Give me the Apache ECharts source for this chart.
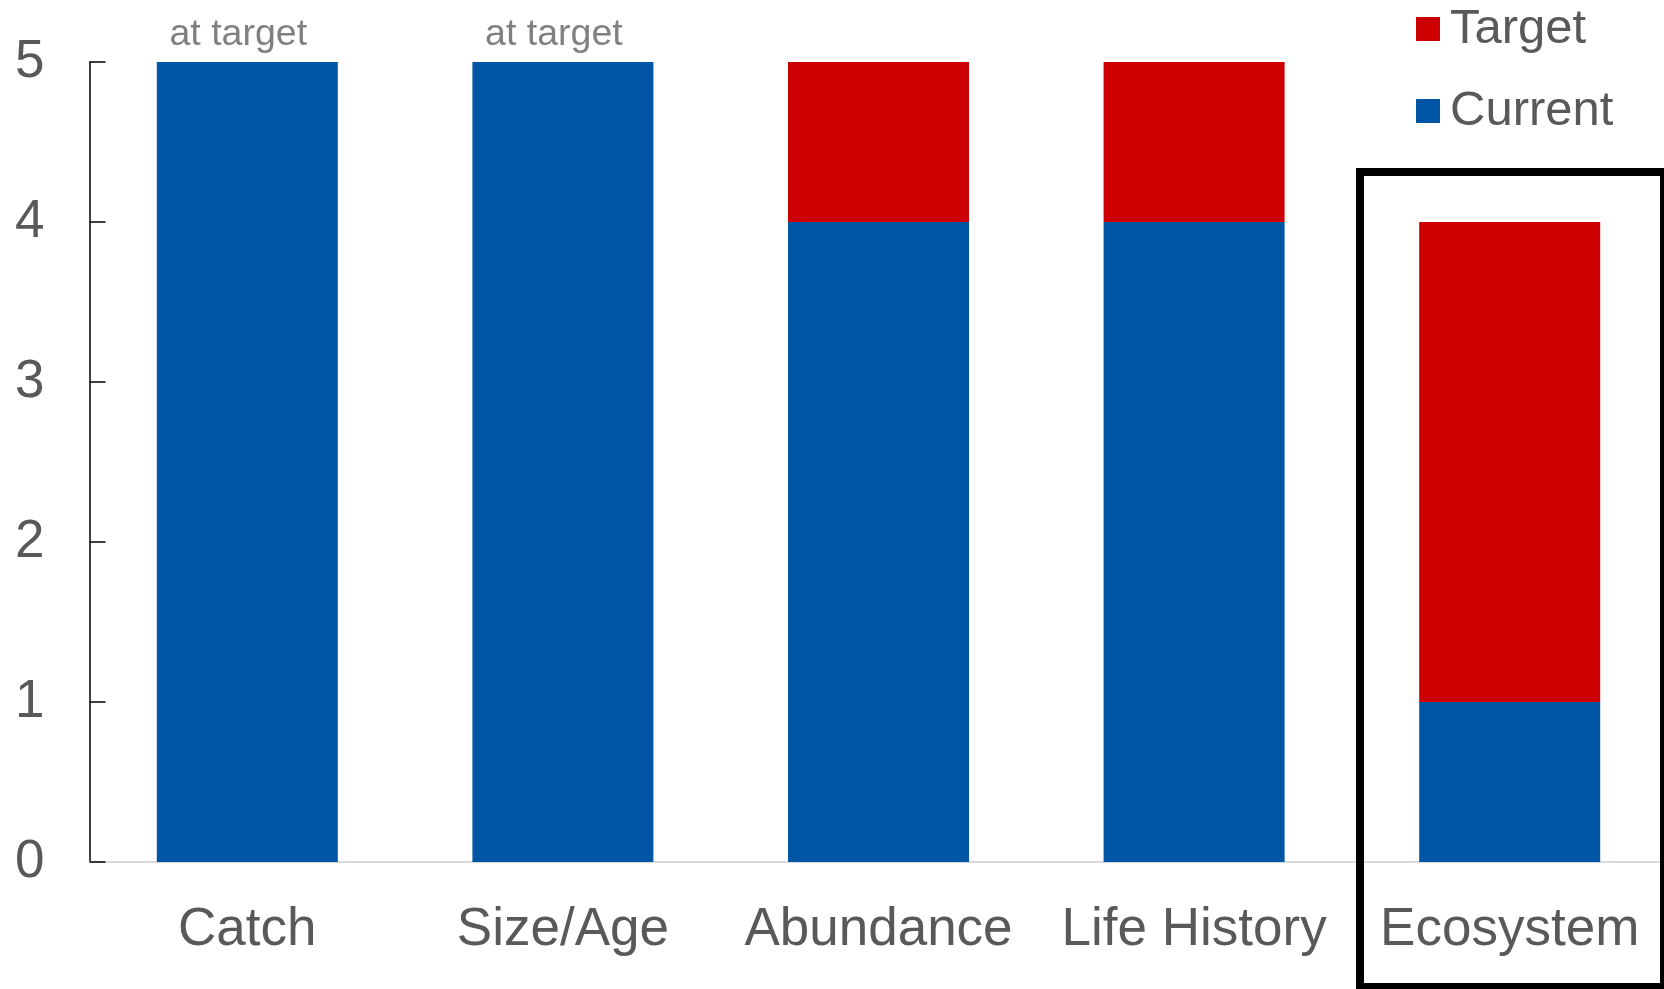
<!DOCTYPE html>
<html>
<head>
<meta charset="utf-8">
<title>Indicator status</title>
<script src="https://cdn.jsdelivr.net/npm/echarts@6/dist/echarts.min.js"></script>
<style>
  html, body { margin: 0; padding: 0; background: #ffffff; }
  #chart { width: 1664px; height: 989px; }
</style>
</head>
<body>
<div id="chart"></div>
<script>
// Indicator categories and scores
const categories = ['Catch', 'Size/Age', 'Abundance', 'Life History', 'Ecosystem'];
const currentScores = [5, 5, 4, 4, 1];
const targetScores = [5, 5, 5, 5, 4];
const barNotes = ['at target', 'at target', '', '', ''];
const yTicks = [0, 1, 2, 3, 4, 5];

const BLUE = '#0055A5';
const RED = '#CC0000';
const TEXT = '#595959';
const FONT = '"Liberation Sans", Arial, Helvetica, sans-serif';

// Remaining distance to target, stacked above the current score
const gapToTarget = targetScores.map((t, i) => t - currentScores[i]);

const currentData = currentScores.map((v, i) => ({
  value: v,
  label: {
    show: barNotes[i] !== '',
    formatter: barNotes[i]
  }
}));

const chart = echarts.init(document.getElementById('chart'), null, { renderer: 'canvas' });

chart.setOption({
  backgroundColor: '#ffffff',
  animation: false,
  textStyle: { fontFamily: FONT },
  grid: { left: 89.5, top: 62, width: 1578, height: 800, containLabel: false, outerBoundsMode: 'none' },
  legend: {
    data: ['Target', 'Current'],
    orient: 'vertical',
    left: 1416,
    top: 4,
    padding: 0,
    itemWidth: 24,
    itemHeight: 24,
    itemGap: 32,
    icon: 'rect',
    textStyle: { color: TEXT, fontSize: 49, lineHeight: 46, fontFamily: FONT, padding: [4, 0, 0, 5] }
  },
  xAxis: {
    type: 'category',
    data: categories,
    axisLine: { show: true, lineStyle: { color: '#d9d9d9', width: 2 } },
    axisTick: { show: false },
    axisLabel: { color: TEXT, fontSize: 53, lineHeight: 53, margin: 42, fontFamily: FONT, interval: 0 },
    splitLine: { show: false }
  },
  yAxis: {
    type: 'value',
    min: yTicks[0],
    max: yTicks[yTicks.length - 1],
    interval: 1,
    axisLine: { show: true, lineStyle: { color: '#000000', width: 1.5 } },
    axisTick: { show: true, inside: true, length: 16, lineStyle: { color: '#000000', width: 1.5 } },
    axisLabel: { color: TEXT, fontSize: 53, margin: 45, fontFamily: FONT },
    splitLine: { show: false }
  },
  series: [
    {
      name: 'Current',
      type: 'bar',
      stack: 'score',
      barWidth: 181,
      data: currentData,
      itemStyle: { color: BLUE },
      label: {
        position: 'top',
        distance: 9,
        offset: [-9, 0],
        color: '#808080',
        fontSize: 37.5,
        lineHeight: 37,
        fontFamily: FONT
      }
    },
    {
      name: 'Target',
      type: 'bar',
      stack: 'score',
      barWidth: 181,
      data: gapToTarget,
      itemStyle: { color: RED }
    }
  ],
  graphic: [
    {
      // Highlight frame around the Ecosystem indicator
      type: 'rect',
      shape: { x: 1360, y: 172, width: 304, height: 815 },
      style: { fill: 'none', stroke: '#000000', lineWidth: 8 },
      z: 100
    }
  ]
});
</script>
</body>
</html>
